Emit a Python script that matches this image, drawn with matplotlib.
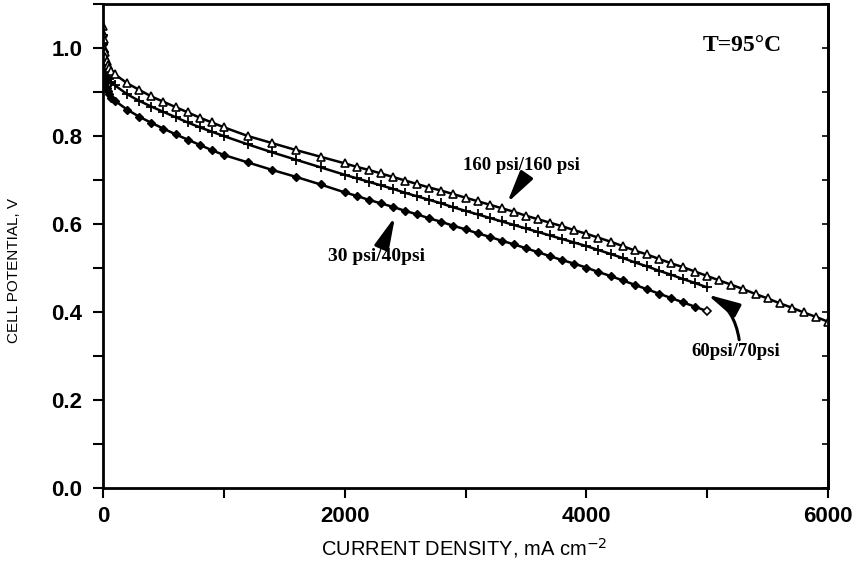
import matplotlib.pyplot as plt
from matplotlib.ticker import MultipleLocator

# current density, mA cm-2 (160 psi / 160 psi, open triangles)
i_160 = [0, 2, 5, 10, 15, 20, 30, 40, 50, 70, 100, 200, 300, 400, 500, 600,
         700, 800, 900, 1000,
         1200, 1400, 1600, 1800, 2000, 2100, 2200, 2300, 2400, 2500, 2600, 2700,
         2800, 2900, 3000, 3100, 3200, 3300, 3400, 3500, 3600, 3700, 3800, 3900,
         4000, 4100, 4200, 4300, 4400, 4500, 4600, 4700, 4800, 4900, 5000, 5100,
         5200, 5300, 5400, 5500, 5600, 5700, 5800, 5900, 6000]
v_160 = [1.05, 1.035, 1.02, 1.00, 0.99, 0.98, 0.97, 0.962, 0.955, 0.948, 0.94,
         0.92, 0.905, 0.89, 0.878, 0.866,
         0.854, 0.842, 0.831, 0.820, 0.800, 0.784, 0.768, 0.753, 0.738, 0.730,
         0.723, 0.715, 0.707, 0.699, 0.691, 0.683, 0.676, 0.668, 0.660, 0.652,
         0.644, 0.636, 0.628, 0.619, 0.611, 0.603, 0.595, 0.586, 0.578, 0.569,
         0.560, 0.550, 0.540, 0.531, 0.521, 0.511, 0.502, 0.492, 0.482, 0.472,
         0.462, 0.452, 0.441, 0.431, 0.420, 0.410, 0.399, 0.389, 0.378]

# 60 psi / 70 psi, plus markers
i_60 = [0, 2, 5, 10, 15, 20, 30, 40, 50, 70, 100, 200, 300, 400, 500, 600, 700,
        800, 900, 1000,
        1200, 1400, 1600, 1800, 2000, 2100, 2200, 2300, 2400, 2500, 2600, 2700,
        2800, 2900, 3000, 3100, 3200, 3300, 3400, 3500, 3600, 3700, 3800, 3900,
        4000, 4100, 4200, 4300, 4400, 4500, 4600, 4700, 4800, 4900, 5000]
v_60 = [1.03, 1.01, 0.99, 0.97, 0.96, 0.95, 0.94, 0.935, 0.93, 0.922, 0.915,
        0.895, 0.880, 0.867, 0.855, 0.843,
        0.831, 0.820, 0.810, 0.800, 0.781, 0.763, 0.746, 0.729, 0.712, 0.704,
        0.696, 0.688, 0.680, 0.671, 0.663, 0.655, 0.647, 0.638, 0.630, 0.622,
        0.614, 0.606, 0.598, 0.590, 0.582, 0.574, 0.566, 0.558, 0.550, 0.541,
        0.532, 0.523, 0.513, 0.504, 0.494, 0.485, 0.475, 0.466, 0.456]

# 30 psi / 40 psi, filled diamonds
i_30 = [0, 2, 5, 10, 15, 20, 30, 40, 50, 70, 100, 200, 300, 400, 500, 600, 700,
        800, 900, 1000,
        1200, 1400, 1600, 1800, 2000, 2100, 2200, 2300, 2400, 2500, 2600, 2700,
        2800, 2900, 3000, 3100, 3200, 3300, 3400, 3500, 3600, 3700, 3800, 3900,
        4000, 4100, 4200, 4300, 4400, 4500, 4600, 4700, 4800, 4900, 5000]
v_30 = [1.01, 0.99, 0.965, 0.94, 0.93, 0.92, 0.91, 0.902, 0.895, 0.887, 0.880,
        0.860, 0.844, 0.830, 0.817, 0.804,
        0.792, 0.780, 0.768, 0.757, 0.740, 0.723, 0.707, 0.690, 0.672, 0.664,
        0.655, 0.647, 0.639, 0.630, 0.622, 0.613, 0.605, 0.596, 0.588, 0.579,
        0.571, 0.562, 0.554, 0.545, 0.536, 0.527, 0.518, 0.510, 0.501, 0.491,
        0.482, 0.472, 0.462, 0.452, 0.442, 0.432, 0.422, 0.412, 0.402]

fig = plt.figure(figsize=(8.6, 5.68), dpi=100)
ax = fig.add_axes([0.1198, 0.1408, 0.843, 0.852])

ax.plot(i_30[:-1], v_30[:-1], color='black', lw=1.8, marker='D', ms=4.5,
        mfc='black', mec='black')
ax.plot(i_30[-2:], v_30[-2:], color='black', lw=1.8)
ax.plot(i_30[-1], v_30[-1], marker='D', ms=4.5, mfc='white', mec='black',
        mew=1.2, ls='none')
ax.plot(i_60, v_60, color='black', lw=1.8, marker='+', ms=7, mew=1.3)
ax.plot(i_160, v_160, color='black', lw=1.8, marker='^', ms=5.5,
        mfc='white', mec='black', mew=1.2)

ax.set_xlim(0, 6000)
ax.set_ylim(0, 1.1)
ax.xaxis.set_major_locator(MultipleLocator(2000))
ax.xaxis.set_minor_locator(MultipleLocator(1000))
ax.yaxis.set_major_locator(MultipleLocator(0.2))
ax.yaxis.set_minor_locator(MultipleLocator(0.1))
ax.tick_params(which='both', direction='out', length=7, width=1.5)
ax.tick_params(axis='x', labelsize=16, pad=6)
ax.tick_params(axis='y', labelsize=16, pad=8)
for lab in ax.get_xticklabels() + ax.get_yticklabels():
    lab.set_fontweight('bold')
    lab.set_family('Liberation Sans')
ax.yaxis.set_major_formatter(plt.FormatStrFormatter('%.1f'))
for s in ax.spines.values():
    s.set_linewidth(2)

# small inward ticks on the right frame
sec = ax.secondary_yaxis('right')
sec.yaxis.set_major_locator(MultipleLocator(0.1))
sec.tick_params(direction='in', length=4, width=1.2, labelright=False)
sec.spines['right'].set_linewidth(2)

ax.set_xlabel('CURRENT DENSITY, mA cm$^{-2}$', fontsize=14.5,
              family='Liberation Sans')
ax.xaxis.set_label_coords(0.498, -0.100)
ax.set_ylabel('CELL POTENTIAL, V', fontsize=11, family='Liberation Sans')
ax.yaxis.set_label_coords(-0.113, 0.45)

tfont = dict(family='Liberation Serif', fontweight='bold', color='black')
ax.text(5290, 1.007, 'T=95°C', fontsize=17, ha='center', va='center', **tfont)

arrow = dict(arrowstyle='-|>,head_length=1.3,head_width=0.3', color='black',
             lw=2.2, mutation_scale=15, shrinkA=0, shrinkB=0)
ax.text(3460, 0.734, '160 psi/160 psi', fontsize=13.5, ha='center',
        va='center', **tfont)
ax.annotate('', xy=(3344, 0.648), xytext=(3468, 0.697), arrowprops=arrow)

ax.text(2260, 0.526, '30 psi/40psi', fontsize=14, ha='center', va='center',
        **tfont)
ax.annotate('', xy=(2417, 0.617), xytext=(2330, 0.562), arrowprops=arrow)

ax.text(5232, 0.31, '60psi/70psi', fontsize=13.5, ha='center', va='center',
        **tfont)
arrow60 = dict(arrow, connectionstyle='arc3,rad=0.25')
ax.annotate('', xy=(5000, 0.44), xytext=(5265, 0.337), arrowprops=arrow60)

fig.savefig('out.png', dpi=100)
